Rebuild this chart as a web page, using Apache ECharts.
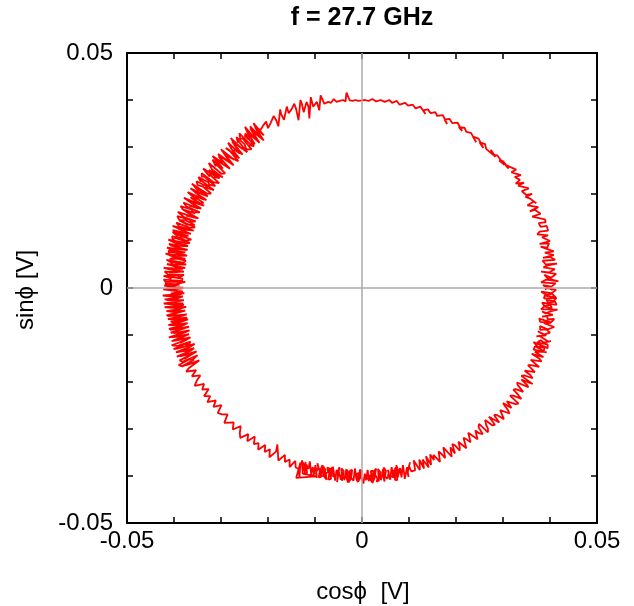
<!DOCTYPE html>
<html><head><meta charset="utf-8">
<script src="https://cdn.jsdelivr.net/npm/echarts@6/dist/echarts.min.js"></script>
<style>html,body{margin:0;padding:0;background:#fff}#c{width:634px;height:606px}</style>
</head><body><div id="c"></div>
<script>
// Trace, in volts [cos phi, sin phi], going counter-clockwise
const traceQ1 = [[0.0405,-0.0004],[0.0385,0.0006],[0.0403,0.0003],[0.0412,0.0010],[0.0381,0.0012],[0.0392,0.0018],[0.0418,0.0014],[0.0396,0.0020],[0.0388,0.0028],[0.0402,0.0022],[0.0413,0.0030],[0.0381,0.0035],[0.0398,0.0033],[0.0410,0.0040],[0.0386,0.0044],[0.0395,0.0048],[0.0415,0.0052],[0.0391,0.0050],[0.0384,0.0058],[0.0411,0.0060],[0.0400,0.0066],[0.0385,0.0064],[0.0408,0.0070],[0.0389,0.0075],[0.0408,0.0078],[0.0405,0.0082],[0.0380,0.0088],[0.0394,0.0086],[0.0398,0.0095],[0.0378,0.0094],[0.0400,0.0100],[0.0402,0.0104],[0.0383,0.0108],[0.0396,0.0112],[0.0373,0.0114],[0.0378,0.0120],[0.0396,0.0122],[0.0392,0.0126],[0.0393,0.0132],[0.0380,0.0130],[0.0376,0.0138],[0.0391,0.0140],[0.0389,0.0146],
[0.0362,0.0152],[0.0380,0.0158],[0.0368,0.0166],[0.0357,0.0163],[0.0375,0.0172],[0.0352,0.0176],[0.0366,0.0184],[0.0371,0.0180],[0.0358,0.0190],[0.0348,0.0194],[0.0362,0.0200],[0.0350,0.0198],[0.0340,0.0206],[0.0355,0.0212],[0.0332,0.0218],[0.0345,0.0224],[0.0327,0.0222],[0.0336,0.0230],[0.0325,0.0236],[0.0338,0.0240],[0.0318,0.0246],[0.0328,0.0252],
[0.0305,0.0262],[0.0312,0.0254],[0.0300,0.0270],[0.0292,0.0271],[0.0303,0.0262],[0.0288,0.0282],[0.0278,0.0284],[0.0274,0.0294],[0.0284,0.0279],[0.0264,0.0296],[0.0262,0.0306],[0.0250,0.0310],[0.0258,0.0298],[0.0248,0.0318],[0.0236,0.0322],[0.0243,0.0310],[0.0232,0.0330],[0.0222,0.0332],[0.0218,0.0341],[0.0206,0.0342],[0.0213,0.0334],[0.0203,0.0352],[0.0192,0.0351],[0.0186,0.0360],[0.0176,0.0358],[0.0181,0.0349],[0.0172,0.0368],[0.0160,0.0366],[0.0156,0.0374],[0.0146,0.0372],[0.0140,0.0380],[0.0130,0.0378],[0.0135,0.0370],[0.0124,0.0386],[0.0114,0.0382],[0.0108,0.0390],[0.0098,0.0388],[0.0092,0.0394],[0.0080,0.0390],[0.0074,0.0398],[0.0064,0.0394],[0.0058,0.0400],[0.0048,0.0396],[0.0040,0.0400],[0.0030,0.0397],[0.0022,0.0402],[0.0014,0.0398],[0.0006,0.0400],[0.0000,0.0399]];

const traceQ2 = [[-0.0008,0.0398],[-0.0014,0.0400],[-0.0020,0.0398],[-0.0026,0.0399],[-0.0033,0.0416],[-0.0035,0.0397],[-0.0040,0.0400],[-0.0048,0.0398],[-0.0054,0.0396],[-0.0060,0.0402],[-0.0066,0.0394],[-0.0072,0.0396],[-0.0080,0.0392],[-0.0088,0.0410],[-0.0091,0.0378],[-0.0096,0.0396],[-0.0104,0.0386],[-0.0109,0.0406],[-0.0112,0.0361],[-0.0114,0.0386],[-0.0118,0.0396],[-0.0124,0.0374],[-0.0128,0.0392],[-0.0131,0.0400],[-0.0135,0.0357],[-0.0140,0.0380],[-0.0144,0.0392],[-0.0150,0.0380],[-0.0156,0.0372],[-0.0160,0.0386],[-0.0166,0.0358],[-0.0172,0.0370],[-0.0174,0.0380],[-0.0178,0.0344],[-0.0182,0.0356],[-0.0188,0.0366],[-0.0194,0.0352],[-0.0200,0.0340],[-0.0204,0.0354],[-0.0210,0.0346],[-0.0216,0.0336],
[-0.0228,0.0343],[-0.0209,0.0325],[-0.0231,0.0351],[-0.0218,0.0325],[-0.0227,0.0341],[-0.0209,0.0314],[-0.0231,0.0332],[-0.0221,0.0326],[-0.0238,0.0344],[-0.0223,0.0315],[-0.0238,0.0340],[-0.0218,0.0309],[-0.0246,0.0334],[-0.0226,0.0316],[-0.0249,0.0343],[-0.0238,0.0318],[-0.0239,0.0324],[-0.0228,0.0306],[-0.0249,0.0323],[-0.0248,0.0329],[-0.0230,0.0301],[-0.0240,0.0305],[-0.0235,0.0303],[-0.0261,0.0329],[-0.0259,0.0318],[-0.0254,0.0318],[-0.0235,0.0295],[-0.0246,0.0295],[-0.0250,0.0306],[-0.0267,0.0321],[-0.0264,0.0309],[-0.0265,0.0315],[-0.0244,0.0289],[-0.0273,0.0310],[-0.0255,0.0296],[-0.0279,0.0319],[-0.0263,0.0292],[-0.0276,0.0311],[-0.0254,0.0284],[-0.0273,0.0295],[-0.0260,0.0286],[-0.0285,0.0309],[-0.0269,0.0281],[-0.0274,0.0292],[-0.0261,0.0276],[-0.0290,0.0298],[-0.0283,0.0294],[-0.0263,0.0270],[-0.0281,0.0278],
[-0.0292,0.0286],[-0.0272,0.0273],[-0.0300,0.0295],[-0.0280,0.0267],[-0.0294,0.0287],[-0.0273,0.0261],[-0.0301,0.0280],[-0.0285,0.0270],[-0.0306,0.0285],[-0.0295,0.0267],[-0.0305,0.0280],[-0.0281,0.0254],[-0.0311,0.0273],[-0.0296,0.0266],[-0.0318,0.0281],[-0.0296,0.0254],[-0.0292,0.0255],[-0.0318,0.0273],[-0.0311,0.0259],[-0.0311,0.0264],[-0.0291,0.0244],[-0.0299,0.0243],[-0.0296,0.0245],[-0.0326,0.0266],[-0.0319,0.0252],[-0.0315,0.0254],[-0.0296,0.0235],[-0.0326,0.0251],[-0.0325,0.0255],[-0.0303,0.0234],[-0.0315,0.0236],[-0.0310,0.0237],[-0.0338,0.0254],[-0.0324,0.0237],[-0.0326,0.0243],[-0.0304,0.0223],[-0.0316,0.0225],[-0.0312,0.0227],[-0.0341,0.0244],[-0.0341,0.0237],[-0.0336,0.0237],[-0.0312,0.0217],[-0.0325,0.0220],[-0.0327,0.0225],[-0.0348,0.0236],[-0.0343,0.0226],[-0.0345,0.0231],[-0.0315,0.0208],[-0.0333,0.0214],[-0.0328,0.0215],[-0.0352,0.0227],[-0.0350,0.0219],[-0.0339,0.0216],[-0.0321,0.0201],[-0.0330,0.0201],[-0.0330,0.0205],[-0.0362,0.0222],[-0.0347,0.0206],[-0.0356,0.0215],[-0.0328,0.0195],[-0.0354,0.0205],[-0.0340,0.0200],[-0.0365,0.0212],[-0.0339,0.0191],[-0.0356,0.0204],[-0.0331,0.0187],[-0.0365,0.0200],[-0.0336,0.0188],[-0.0371,0.0204],[-0.0352,0.0188],[-0.0355,0.0193],[-0.0337,0.0181],[-0.0347,0.0180],[-0.0365,0.0193],[-0.0336,0.0175],[-0.0368,0.0185],[-0.0348,0.0179],[-0.0379,0.0192],[-0.0348,0.0170],[-0.0364,0.0182],[-0.0342,0.0169],[-0.0367,0.0175],[-0.0348,0.0169],[-0.0380,0.0182],[-0.0373,0.0173],[-0.0374,0.0177],[-0.0345,0.0161],[-0.0359,0.0161],[-0.0363,0.0167],[-0.0386,0.0174],[-0.0380,0.0166],[-0.0355,0.0159],[-0.0383,0.0168],[-0.0354,0.0150],[-0.0375,0.0163],[-0.0348,0.0148],[-0.0374,0.0154],[-0.0354,0.0149],[-0.0392,0.0162],[-0.0379,0.0151],[-0.0382,0.0155],[-0.0354,0.0142],[-0.0364,0.0140],[-0.0366,0.0145],[-0.0393,0.0153],[-0.0389,0.0145],[-0.0376,0.0144],[-0.0356,0.0134],[-0.0373,0.0135],[-0.0389,0.0144],[-0.0355,0.0129],[-0.0366,0.0128],[-0.0367,0.0132],[-0.0395,0.0139],[-0.0389,0.0131],[-0.0386,0.0134],[-0.0358,0.0122],[-0.0382,0.0125],[-0.0366,0.0123],[-0.0403,0.0132],[-0.0367,0.0116],[-0.0391,0.0126],[-0.0364,0.0115],[-0.0395,0.0120],[-0.0378,0.0118],[-0.0403,0.0123],[-0.0379,0.0111],[-0.0369,0.0111],[-0.0403,0.0119],[-0.0392,0.0110],[-0.0397,0.0115],[-0.0363,0.0103],[-0.0376,0.0101],[-0.0385,0.0107],[-0.0404,0.0110],[-0.0403,0.0104],[-0.0396,0.0106],[-0.0366,0.0096],[-0.0381,0.0094],[-0.0376,0.0096],[-0.0412,0.0103],[-0.0389,0.0092],[-0.0396,0.0097],[-0.0370,0.0089],[-0.0404,0.0091],[-0.0380,0.0089],[-0.0411,0.0094],[-0.0375,0.0080],[-0.0409,0.0091],[-0.0371,0.0081],[-0.0403,0.0082],[-0.0387,0.0082],[-0.0415,0.0086],[-0.0386,0.0075],[-0.0376,0.0076],[-0.0411,0.0080],[-0.0411,0.0075],[-0.0404,0.0077],[-0.0372,0.0069],[-0.0392,0.0068],[-0.0381,0.0069],[-0.0418,0.0073],[-0.0383,0.0062],[-0.0411,0.0070],[-0.0376,0.0062],[-0.0409,0.0062],[-0.0401,0.0064],[-0.0375,0.0058],[-0.0380,0.0054],[-0.0377,0.0056],[-0.0416,0.0060],[-0.0403,0.0053],[-0.0410,0.0057],[-0.0374,0.0050],[-0.0414,0.0050],[-0.0389,0.0050],[-0.0415,0.0051],[-0.0387,0.0043],[-0.0399,0.0047],[-0.0376,0.0043],[-0.0402,0.0040],[-0.0381,0.0041],[-0.0422,0.0043],[-0.0379,0.0034],[-0.0416,0.0041],[-0.0379,0.0035],[-0.0411,0.0033],[-0.0388,0.0034],[-0.0420,0.0035],[-0.0413,0.0029],[-0.0409,0.0032],[-0.0379,0.0028],[-0.0388,0.0023],[-0.0393,0.0027],[-0.0422,0.0026],[-0.0405,0.0020],[-0.0413,0.0024],[-0.0382,0.0020],[-0.0383,0.0015],[-0.0386,0.0018],[-0.0422,0.0018],[-0.0418,0.0013],[-0.0419,0.0016],[-0.0376,0.0013],[-0.0396,0.0008],[-0.0398,0.0011],[-0.0419,0.0009],[-0.0410,0.0004],[-0.0388,0.0007],[-0.0421,0.0005],[-0.0386,0.0000],[-0.0416,0.0003],[-0.0380,0.0001]];

const traceQ3 = [[-0.0412,-0.0004],[-0.0382,-0.0001],[-0.0423,-0.0003],[-0.0381,-0.0008],[-0.0408,-0.0005],[-0.0382,-0.0007],[-0.0407,-0.0012],[-0.0405,-0.0009],[-0.0378,-0.0011],[-0.0416,-0.0017],[-0.0384,-0.0013],[-0.0424,-0.0016],[-0.0391,-0.0020],[-0.0412,-0.0018],[-0.0381,-0.0018],[-0.0401,-0.0024],[-0.0389,-0.0021],[-0.0420,-0.0024],[-0.0386,-0.0027],[-0.0416,-0.0026],[-0.0379,-0.0026],[-0.0418,-0.0034],[-0.0392,-0.0029],[-0.0422,-0.0033],[-0.0392,-0.0036],[-0.0400,-0.0033],[-0.0380,-0.0033],[-0.0409,-0.0041],[-0.0379,-0.0036],[-0.0420,-0.0041],[-0.0382,-0.0042],[-0.0412,-0.0042],[-0.0374,-0.0040],[-0.0410,-0.0050],[-0.0384,-0.0044],[-0.0416,-0.0049],[-0.0395,-0.0052],[-0.0408,-0.0050],[-0.0376,-0.0048],[-0.0413,-0.0058],[-0.0391,-0.0052],[-0.0416,-0.0058],[-0.0384,-0.0058],[-0.0414,-0.0060],[-0.0373,-0.0056],[-0.0401,-0.0065],[-0.0378,-0.0058],[-0.0413,-0.0066],[-0.0376,-0.0065],[-0.0402,-0.0066],[-0.0372,-0.0063],[-0.0402,-0.0073],[-0.0407,-0.0071],[-0.0370,-0.0067],[-0.0407,-0.0079],[-0.0382,-0.0071],[-0.0412,-0.0079],[-0.0385,-0.0079],[-0.0397,-0.0078],[-0.0371,-0.0075],[-0.0392,-0.0084],[-0.0377,-0.0078],[-0.0411,-0.0087],[-0.0376,-0.0085],[-0.0409,-0.0089],[-0.0368,-0.0082],[-0.0407,-0.0096],[-0.0382,-0.0087],[-0.0407,-0.0095],[-0.0378,-0.0094],[-0.0401,-0.0096],[-0.0367,-0.0090],[-0.0399,-0.0103],[-0.0373,-0.0093],[-0.0411,-0.0105],[-0.0381,-0.0103],[-0.0399,-0.0104],[-0.0368,-0.0098],[-0.0401,-0.0112],[-0.0378,-0.0103],[-0.0405,-0.0113],[-0.0368,-0.0107],[-0.0390,-0.0110],[-0.0365,-0.0105],[-0.0387,-0.0117],[-0.0371,-0.0109],[-0.0405,-0.0122],[-0.0392,-0.0123],[-0.0391,-0.0120],[-0.0365,-0.0114],[-0.0368,-0.0120],[-0.0378,-0.0120],[-0.0401,-0.0130],[-0.0397,-0.0134],[-0.0393,-0.0129],[-0.0356,-0.0119],[-0.0377,-0.0132],[-0.0369,-0.0126],[-0.0396,-0.0137],[-0.0366,-0.0132],[-0.0384,-0.0135],[-0.0357,-0.0128],[-0.0388,-0.0145],[-0.0361,-0.0132],[-0.0394,-0.0146],[-0.0358,-0.0138],[-0.0385,-0.0145],[-0.0352,-0.0135],[-0.0378,-0.0151],[-0.0367,-0.0143],[-0.0388,-0.0154],[-0.0382,-0.0157],[-0.0383,-0.0154],[-0.0350,-0.0143],[-0.0361,-0.0153],[-0.0368,-0.0152],[-0.0390,-0.0164],[-0.0382,-0.0167],[-0.0357,-0.0152],[-0.0384,-0.0167],[-0.0348,-0.0156],[-0.0374,-0.0164],[-0.0346,-0.0154],[-0.0368,-0.0170],
[-0.0374,-0.0178],[-0.0353,-0.0175],[-0.0362,-0.0188],[-0.0344,-0.0186],[-0.0352,-0.0198],[-0.0356,-0.0208],[-0.0336,-0.0204],[-0.0340,-0.0216],[-0.0326,-0.0215],[-0.0336,-0.0230],[-0.0323,-0.0230],[-0.0329,-0.0243],[-0.0311,-0.0239],[-0.0316,-0.0253],[-0.0299,-0.0249],[-0.0307,-0.0266],[-0.0298,-0.0269],[-0.0286,-0.0269],[-0.0293,-0.0287],
[-0.0273,-0.0286],[-0.0275,-0.0301],[-0.0258,-0.0294],[-0.0260,-0.0308],[-0.0259,-0.0319],[-0.0242,-0.0311],[-0.0244,-0.0326],[-0.0228,-0.0316],[-0.0230,-0.0332],[-0.0220,-0.0330],[-0.0221,-0.0344],[-0.0206,-0.0334],[-0.0207,-0.0349],[-0.0196,-0.0343],[-0.0197,-0.0360],[-0.0183,-0.0348],[-0.0180,-0.0333],[-0.0178,-0.0367],[-0.0164,-0.0355],[-0.0164,-0.0370],[-0.0154,-0.0365],[-0.0154,-0.0381],[-0.0142,-0.0368],[-0.0141,-0.0382],
[-0.0135,-0.0385],[-0.0133,-0.0403],[-0.0131,-0.0371],[-0.0140,-0.0404],[-0.0098,-0.0401],
[-0.0126,-0.0395],[-0.0128,-0.0367],[-0.0123,-0.0378],[-0.0125,-0.0389],[-0.0120,-0.0370],[-0.0122,-0.0397],[-0.0117,-0.0393],[-0.0119,-0.0375],[-0.0114,-0.0385],[-0.0116,-0.0386],[-0.0111,-0.0369],[-0.0113,-0.0370],[-0.0108,-0.0398],[-0.0110,-0.0396],[-0.0105,-0.0381],[-0.0107,-0.0380],[-0.0102,-0.0394],[-0.0104,-0.0403],[-0.0099,-0.0377],[-0.0101,-0.0377],[-0.0096,-0.0404],[-0.0098,-0.0394],[-0.0093,-0.0381],[-0.0095,-0.0373],[-0.0090,-0.0390],[-0.0092,-0.0403],[-0.0087,-0.0402],[-0.0089,-0.0388],[-0.0084,-0.0377],[-0.0086,-0.0399],[-0.0081,-0.0401],[-0.0083,-0.0379],[-0.0078,-0.0386],[-0.0080,-0.0402],[-0.0075,-0.0408],[-0.0077,-0.0394],[-0.0072,-0.0392],[-0.0074,-0.0382],[-0.0069,-0.0384],[-0.0071,-0.0408],[-0.0066,-0.0406],[-0.0068,-0.0386],[-0.0063,-0.0382],[-0.0065,-0.0399],[-0.0060,-0.0401],[-0.0062,-0.0380],[-0.0057,-0.0410],[-0.0059,-0.0408],[-0.0054,-0.0387],[-0.0056,-0.0390],[-0.0051,-0.0400],[-0.0053,-0.0413],[-0.0048,-0.0381],[-0.0050,-0.0388],[-0.0045,-0.0408],[-0.0047,-0.0399],[-0.0042,-0.0410],[-0.0044,-0.0384],[-0.0039,-0.0389],[-0.0041,-0.0405],[-0.0036,-0.0402],[-0.0038,-0.0409],[-0.0033,-0.0385],[-0.0035,-0.0395],[-0.0030,-0.0414],[-0.0032,-0.0387],[-0.0027,-0.0396],[-0.0029,-0.0414],[-0.0024,-0.0407],[-0.0026,-0.0389],[-0.0021,-0.0387],[-0.0023,-0.0404],[-0.0018,-0.0410],[-0.0020,-0.0413],[-0.0015,-0.0384],[-0.0017,-0.0384],[-0.0012,-0.0406],[-0.0014,-0.0409],[-0.0009,-0.0413],[-0.0011,-0.0396],[-0.0006,-0.0393],[-0.0008,-0.0412],[-0.0003,-0.0402],[-0.0005,-0.0387],[0.0000,-0.0389],[-0.0002,-0.0400]];

const traceQ4 = [[0.0003,-0.0416],[0.0001,-0.0414],[0.0006,-0.0395],[0.0004,-0.0393],[0.0009,-0.0409],[0.0007,-0.0410],[0.0012,-0.0387],[0.0010,-0.0385],[0.0015,-0.0411],[0.0013,-0.0406],[0.0018,-0.0398],[0.0016,-0.0403],[0.0021,-0.0413],[0.0019,-0.0389],[0.0024,-0.0389],[0.0022,-0.0415],[0.0027,-0.0404],[0.0025,-0.0391],[0.0030,-0.0384],[0.0028,-0.0397],[0.0033,-0.0406],[0.0031,-0.0412],[0.0036,-0.0410],[0.0034,-0.0385],[0.0039,-0.0392],[0.0037,-0.0406],[0.0042,-0.0399],[0.0040,-0.0409],[0.0045,-0.0386],[0.0043,-0.0392],[0.0048,-0.0412],[0.0046,-0.0382],[0.0051,-0.0389],[0.0049,-0.0401],[0.0054,-0.0406],[0.0052,-0.0409],[0.0057,-0.0392],[0.0055,-0.0387],[0.0060,-0.0408],[0.0058,-0.0411],[0.0063,-0.0381],[0.0061,-0.0384],[0.0066,-0.0397],[0.0064,-0.0402],[0.0069,-0.0403],[0.0067,-0.0391],[0.0072,-0.0382],[0.0070,-0.0408],[0.0075,-0.0409],[0.0073,-0.0377],[0.0078,-0.0391],[0.0076,-0.0403],[0.0081,-0.0383],[0.0079,-0.0387],[0.0084,-0.0403],[0.0082,-0.0401],[0.0087,-0.0377],[0.0085,-0.0378],[0.0090,-0.0396],[0.0088,-0.0392],[0.0093,-0.0400],[0.0091,-0.0406],[0.0096,-0.0381],[0.0094,-0.0379],[0.0099,-0.0402],[0.0097,-0.0393],[0.0102,-0.0371],[0.0100,-0.0379],[0.0105,-0.0390],
[0.0113,-0.0388],[0.0110,-0.0367],[0.0114,-0.0369],[0.0123,-0.0387],[0.0123,-0.0379],[0.0122,-0.0365],[0.0132,-0.0384],[0.0129,-0.0365],[0.0132,-0.0365],[0.0142,-0.0382],[0.0136,-0.0358],[0.0147,-0.0376],[0.0149,-0.0373],[0.0145,-0.0354],[0.0153,-0.0366],[0.0152,-0.0355],[0.0154,-0.0353],[0.0166,-0.0370],[0.0169,-0.0371],[0.0163,-0.0348],[0.0168,-0.0352],[0.0177,-0.0362],[0.0180,-0.0360],[0.0173,-0.0339],[0.0176,-0.0340],[0.0191,-0.0359],[0.0190,-0.0352],[0.0188,-0.0339],[0.0198,-0.0352],[0.0192,-0.0332],[0.0197,-0.0334],[0.0208,-0.0346],[0.0208,-0.0339],[0.0205,-0.0327],[0.0207,-0.0325],[0.0222,-0.0341],[0.0224,-0.0339],[0.0216,-0.0319],[0.0221,-0.0321],[0.0231,-0.0328],[0.0233,-0.0326],[0.0226,-0.0308],[0.0228,-0.0306],[0.0246,-0.0322],[0.0247,-0.0319],[0.0241,-0.0303],[0.0249,-0.0309],[0.0257,-0.0311],[0.0248,-0.0296],[0.0249,-0.0289],[0.0268,-0.0307],[0.0268,-0.0299],[0.0264,-0.0291],[0.0262,-0.0281],[0.0277,-0.0292],[0.0283,-0.0291],[0.0270,-0.0274],
[0.0292,-0.0286],[0.0281,-0.0270],[0.0287,-0.0270],[0.0302,-0.0279],[0.0306,-0.0276],[0.0294,-0.0260],[0.0295,-0.0256],[0.0314,-0.0267],[0.0310,-0.0259],[0.0300,-0.0245],[0.0318,-0.0255],[0.0308,-0.0241],[0.0307,-0.0237],[0.0327,-0.0247],[0.0333,-0.0246],[0.0315,-0.0229],[0.0322,-0.0229],[0.0339,-0.0236],[0.0332,-0.0227],[0.0322,-0.0216],[0.0327,-0.0215],[0.0343,-0.0221],[0.0347,-0.0220],[0.0331,-0.0206],[0.0330,-0.0201],[0.0354,-0.0211],[0.0351,-0.0206],[0.0339,-0.0195],[0.0363,-0.0204],[0.0339,-0.0187],[0.0345,-0.0186],[0.0363,-0.0192],[0.0358,-0.0185],[0.0346,-0.0176],[0.0347,-0.0172],[0.0368,-0.0179],[0.0370,-0.0176],[0.0353,-0.0164],[0.0360,-0.0164],[0.0377,-0.0168],[0.0380,-0.0166],[0.0359,-0.0153],[0.0359,-0.0150],[0.0382,-0.0156],[0.0377,-0.0150],[0.0361,-0.0140],[0.0386,-0.0147],[0.0368,-0.0136],[0.0370,-0.0134],[0.0387,-0.0136],
[0.0393,-0.0137],[0.0365,-0.0131],[0.0368,-0.0124],[0.0387,-0.0134],[0.0388,-0.0127],[0.0374,-0.0125],[0.0365,-0.0115],[0.0395,-0.0128],[0.0395,-0.0120],[0.0373,-0.0116],[0.0380,-0.0111],[0.0387,-0.0116],[0.0402,-0.0113],[0.0396,-0.0114],[0.0378,-0.0102],[0.0371,-0.0103],[0.0392,-0.0101],[0.0393,-0.0105],[0.0374,-0.0092],[0.0386,-0.0099],[0.0400,-0.0095],[0.0402,-0.0098],[0.0392,-0.0088],[0.0379,-0.0089],[0.0379,-0.0081],[0.0395,-0.0088],[0.0409,-0.0083],[0.0407,-0.0086],[0.0387,-0.0075],[0.0384,-0.0077],[0.0402,-0.0074],[0.0379,-0.0072],[0.0377,-0.0065],[0.0402,-0.0073],[0.0409,-0.0066],[0.0395,-0.0067],[0.0394,-0.0060],[0.0383,-0.0061],[0.0406,-0.0057],[0.0408,-0.0061],[0.0383,-0.0050],[0.0391,-0.0054],[0.0403,-0.0049],[0.0407,-0.0052],[0.0416,-0.0046],[0.0381,-0.0045],[0.0388,-0.0039],[0.0404,-0.0044],[0.0401,-0.0036],[0.0388,-0.0038],[0.0383,-0.0031],[0.0414,-0.0036],[0.0411,-0.0029],[0.0396,-0.0031],[0.0392,-0.0024],[0.0407,-0.0028],[0.0414,-0.0021],[0.0387,-0.0022],[0.0389,-0.0016],[0.0412,-0.0020],[0.0404,-0.0012],[0.0393,-0.0015],[0.0381,-0.0008],[0.0403,-0.0011],[0.0413,-0.0004],[0.0416,-0.0007],[0.0395,0.0000],[0.0389,-0.0003]];

const axisMin = -0.05, axisMax = 0.05, tickStep = 0.01;
const tickValues = [-0.05, 0, 0.05];
const tickLabels = ['-0.05', '0', '0.05'];
const titleText = 'f = 27.7 GHz';
const xName = 'cos\u03D5  [V]';
const yName = 'sin\u03D5 [V]';

const FONT = '"Liberation Sans", Arial, Helvetica, sans-serif';
const trace = traceQ1.concat(traceQ2, traceQ3, traceQ4);

function fmt(v) {
  for (let i = 0; i < tickValues.length; i++) {
    if (Math.abs(v - tickValues[i]) < 1e-9) return tickLabels[i];
  }
  return '';
}

function axisBase(pos, showLabels, isY) {
  return {
    type: 'value', min: axisMin, max: axisMax, interval: tickStep, position: pos,
    axisLine: { show: true, onZero: false, lineStyle: { color: '#000', width: 2 } },
    axisTick: { show: true, inside: true, length: 6, lineStyle: { color: '#000', width: 1.5 } },
    axisLabel: {
      show: showLabels, formatter: fmt, fontSize: 24, color: '#000', fontFamily: FONT,
      margin: isY ? 14 : 6, hideOverlap: false
    },
    splitLine: { show: false }
  };
}

const chart = echarts.init(document.getElementById('c'), null, { renderer: 'canvas' });
chart.setOption({
  animation: false,
  backgroundColor: '#fff',
  grid: { left: 127, top: 53, right: 37, bottom: 83, containLabel: false },
  xAxis: [axisBase('bottom', true, false), axisBase('top', false, false)],
  yAxis: [axisBase('left', true, true), axisBase('right', false, true)],
  graphic: [
    { type: 'text', x: 362, y: 18, style: { text: titleText, font: 'bold 25px ' + FONT, fill: '#000', align: 'center', verticalAlign: 'middle', textAlign: 'center', textVerticalAlign: 'middle' } },
    { type: 'text', x: 363, y: 592, style: { text: xName, font: '24px ' + FONT, fill: '#000', align: 'center', verticalAlign: 'middle', textAlign: 'center', textVerticalAlign: 'middle' } },
    { type: 'text', x: 26, y: 290, rotation: Math.PI / 2, style: { text: yName, font: '24px ' + FONT, fill: '#000', align: 'center', verticalAlign: 'middle', textAlign: 'center', textVerticalAlign: 'middle' } }
  ],
  series: [
    {
      type: 'line', data: [], z: 1, silent: true,
      markLine: {
        silent: true, symbol: ['none', 'none'], animation: false,
        label: { show: false },
        lineStyle: { color: '#aaaaaa', width: 1.5, type: 'solid' },
        data: [{ xAxis: 0 }, { yAxis: 0 }]
      }
    },
    {
      type: 'line', data: trace, z: 3, showSymbol: false, symbol: 'none', sampling: null,
      lineStyle: { color: '#ff0000', width: 1.8 }, silent: true
    }
  ]
});
</script>
</body></html>
